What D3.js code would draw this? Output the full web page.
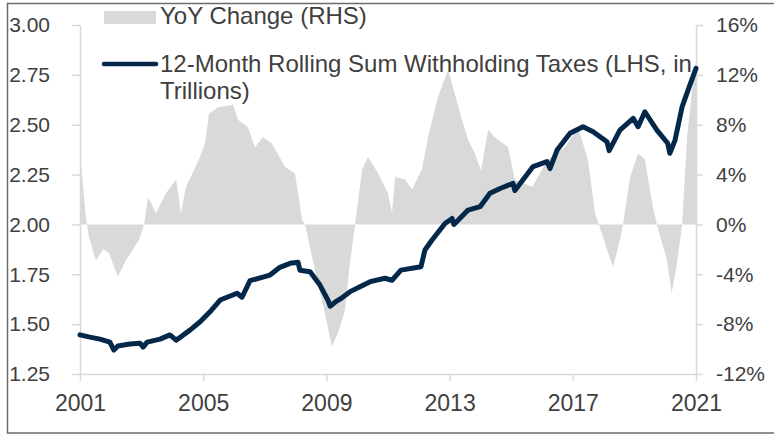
<!DOCTYPE html>
<html>
<head>
<meta charset="utf-8">
<script src="https://cdn.jsdelivr.net/npm/d3@7"></script>
<style>
  body { margin: 0; background: #fff; }
  svg text { font-family: "Liberation Sans", Arial, sans-serif; fill: #404040; }
</style>
</head>
<body>
<script>
(function(){

//12-month rolling sum of withholding taxes (LHS, trillions)
var lineYears = [2001.00, 2001.32, 2001.65, 2001.97, 2002.10, 2002.23, 2002.62, 2002.95, 2003.05, 2003.18,
    2003.60, 2003.92, 2004.12, 2004.31, 2004.57, 2004.90, 2005.22, 2005.55, 2006.10, 2006.26,
    2006.52, 2007.17, 2007.49, 2007.82, 2008.08, 2008.14, 2008.47, 2008.79, 2009.05, 2009.12,
    2009.28, 2009.44, 2009.77, 2010.09, 2010.42, 2010.90, 2011.13, 2011.42, 2012.07, 2012.20,
    2012.43, 2012.85, 2013.08, 2013.14, 2013.60, 2013.99, 2014.31, 2014.64, 2015.06, 2015.12,
    2015.71, 2016.16, 2016.26, 2016.49, 2016.91, 2017.33, 2017.66, 2018.11, 2018.18, 2018.53,
    2018.96, 2019.12, 2019.34, 2019.73, 2020.08, 2020.15, 2020.32, 2020.55, 2020.78, 2021.00];
var lineValues = [1.446, 1.435, 1.425, 1.410, 1.370, 1.390, 1.400, 1.404, 1.385, 1.410,
    1.425, 1.446, 1.420, 1.440, 1.470, 1.512, 1.562, 1.621, 1.655, 1.635,
    1.718, 1.746, 1.785, 1.805, 1.810, 1.770, 1.763, 1.696, 1.620, 1.590,
    1.610, 1.625, 1.663, 1.688, 1.713, 1.730, 1.720, 1.771, 1.788, 1.872,
    1.922, 2.005, 2.030, 2.000, 2.072, 2.089, 2.156, 2.180, 2.206, 2.170,
    2.290, 2.315, 2.280, 2.373, 2.457, 2.490, 2.465, 2.415, 2.370, 2.473,
    2.532, 2.490, 2.565, 2.473, 2.407, 2.357, 2.423, 2.590, 2.690, 2.783];

//year-over-year change (RHS, percent)
var yoyYears = [2001.00, 2001.10, 2001.19, 2001.29, 2001.52, 2001.75, 2001.94, 2002.23, 2002.49, 2002.72,
    2002.92, 2003.08, 2003.21, 2003.47, 2003.79, 2004.12, 2004.28, 2004.44, 2004.86, 2005.06,
    2005.19, 2005.48, 2005.97, 2006.13, 2006.45, 2006.68, 2006.94, 2007.23, 2007.66, 2007.98,
    2008.08, 2008.21, 2008.31, 2008.63, 2008.95, 2009.18, 2009.38, 2009.60, 2009.77, 2009.93,
    2010.16, 2010.35, 2010.68, 2011.00, 2011.13, 2011.23, 2011.55, 2011.78, 2012.10, 2012.30,
    2012.62, 2012.95, 2013.11, 2013.40, 2013.60, 2013.82, 2014.02, 2014.25, 2014.47, 2014.90,
    2015.12, 2015.68, 2016.19, 2016.75, 2017.17, 2017.49, 2017.72, 2017.85, 2018.11, 2018.31,
    2018.53, 2018.63, 2018.86, 2019.12, 2019.34, 2019.60, 2019.73, 2020.06, 2020.21, 2020.37,
    2020.55, 2020.71, 2020.92, 2021.00];
var yoyValues = [6.0, 3.0, 0.6, -1.0, -2.9, -2.0, -2.3, -4.2, -2.9, -2.0,
    -1.25, 0.0, 2.2, 0.9, 2.5, 3.6, 0.9, 3.0, 5.2, 6.5,
    8.9, 9.4, 9.6, 8.4, 7.8, 6.2, 7.0, 6.5, 4.6, 4.1,
    2.5, 0.35, 0.0, -3.7, -7.1, -9.8, -8.7, -6.9, -3.0, 0.0,
    4.4, 5.4, 4.1, 2.5, 0.9, 3.8, 3.6, 2.8, 4.4, 7.0,
    10.2, 12.4, 11.0, 8.4, 6.8, 5.7, 4.3, 7.6, 7.0, 6.2,
    3.6, 3.0, 5.2, 6.2, 7.8, 5.2, 0.9, 0.0, -2.05, -3.4,
    -1.25, 0.0, 3.8, 5.7, 5.2, 1.4, 0.0, -2.9, -5.5, -3.4,
    0.0, 7.0, 11.9, 12.9];

//axis ticks
var xTicks = [2001, 2005, 2009, 2013, 2017, 2021];
var leftTicks = [1.25, 1.50, 1.75, 2.00, 2.25, 2.50, 2.75, 3.00];
var rightTicks = [-12, -8, -4, 0, 4, 8, 12, 16];

var legendLabels = ["YoY Change (RHS)", "12-Month Rolling Sum Withholding Taxes (LHS, in", "Trillions)"];

var width = 774, height = 436;
var margin = {left: 80, right: 78, top: 25, bottom: 62};

var svg = d3.select("body").append("svg")
    .attr("width", width)
    .attr("height", height);

//outer frame
svg.append("rect")
    .attr("x", 7.5).attr("y", 3.5)
    .attr("width", 800).attr("height", 429.5)
    .attr("fill", "none")
    .attr("stroke", "#6b6b6b")
    .attr("stroke-width", 1.5);

var x = d3.scaleLinear().domain([2001, 2021]).range([margin.left, width - margin.right]);
var yL = d3.scaleLinear().domain([1.25, 3.00]).range([height - margin.bottom, margin.top]);
var yR = d3.scaleLinear().domain([-12, 16]).range([height - margin.bottom, margin.top]);

//yoy area against the zero line
var area = d3.area()
    .x(function(d){ return x(d[0]); })
    .y0(yR(0))
    .y1(function(d){ return yR(d[1]); });

svg.append("path")
    .datum(d3.zip(yoyYears, yoyValues))
    .attr("fill", "#d9d9d9")
    .attr("d", area);

//axes
var axisColor = "#d9d9d9";
function styleAxis(g, size){
    g.select(".domain").attr("stroke", axisColor).attr("stroke-width", 1.5);
    g.selectAll(".tick line").attr("stroke", axisColor).attr("stroke-width", 1.5);
    g.selectAll(".tick text").attr("fill", "#404040").style("font-size", size);
}

var gx = svg.append("g")
    .attr("transform", "translate(0," + yL(1.25) + ")")
    .call(d3.axisBottom(x).tickValues(xTicks).tickFormat(d3.format("d")).tickSize(7).tickSizeOuter(0).tickPadding(14));
styleAxis(gx, "23px");

var gl = svg.append("g")
    .attr("transform", "translate(" + margin.left + ",0)")
    .call(d3.axisLeft(yL).tickValues(leftTicks).tickFormat(d3.format(".2f")).tickSize(8).tickSizeOuter(0).tickPadding(22));
styleAxis(gl, "21px");

var gr = svg.append("g")
    .attr("transform", "translate(" + (width - margin.right) + ",0)")
    .call(d3.axisRight(yR).tickValues(rightTicks).tickFormat(function(d){ return d + "%"; }).tickSize(7).tickSizeOuter(0).tickPadding(13));
styleAxis(gr, "21px");

//withholding line
var line = d3.line()
    .x(function(d){ return x(d[0]); })
    .y(function(d){ return yL(d[1]); });

svg.append("path")
    .datum(d3.zip(lineYears, lineValues))
    .attr("fill", "none")
    .attr("stroke", "#03284a")
    .attr("stroke-width", 5)
    .attr("stroke-linejoin", "round")
    .attr("stroke-linecap", "round")
    .attr("d", line);

//legend
var legend = svg.append("g");
legend.append("rect")
    .attr("x", 104).attr("y", 11)
    .attr("width", 52).attr("height", 13)
    .attr("fill", "#d9d9d9");
legend.append("text")
    .attr("x", 160).attr("y", 24)
    .style("font-size", "24px")
    .text(legendLabels[0]);
legend.append("line")
    .attr("x1", 104).attr("x2", 156)
    .attr("y1", 64).attr("y2", 64)
    .attr("stroke", "#03284a")
    .attr("stroke-width", 4.5)
    .attr("stroke-linecap", "round");
//wrapped label, two lines
legend.append("text")
    .attr("x", 160).attr("y", 72)
    .style("font-size", "24px")
    .text(legendLabels[1]);
legend.append("text")
    .attr("x", 160).attr("y", 99)
    .style("font-size", "24px")
    .text(legendLabels[2]);

})();
</script>
</body>
</html>
